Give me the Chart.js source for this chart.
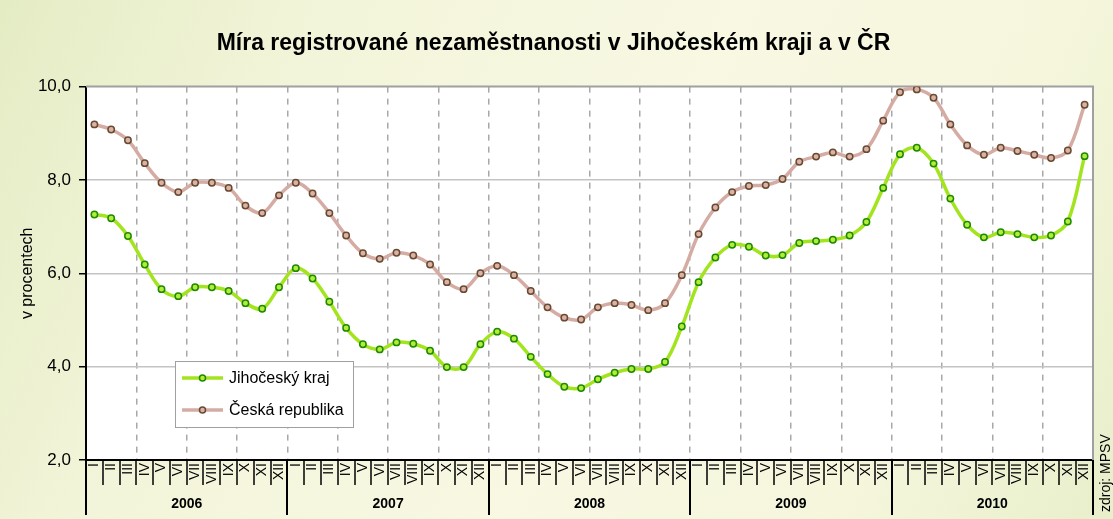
<!DOCTYPE html>
<html><head><meta charset="utf-8">
<script src="https://cdn.jsdelivr.net/npm/chart.js@4.4.1/dist/chart.umd.min.js"></script>
<style>
html,body{margin:0;padding:0;}
body{width:1113px;height:519px;overflow:hidden;background:linear-gradient(115deg,#e4ecc4 0%,#f3f5da 25%,#f8f8e3 55%,#f5f6dc 80%,#e8efca 100%);}
#wrap{position:relative;width:1113px;height:519px;}
</style></head><body><div id="wrap"><canvas id="c" width="1113" height="519"></canvas></div>
<script>
const months = ['I','II','III','IV','V','VI','VII','VIII','IX','X','XI','XII'];
const years = ['2006','2007','2008','2009','2010'];
const yTicks = [2, 4, 6, 8, 10];
const jihocesky = [
  7.26, 7.18, 6.80, 6.19, 5.66, 5.51, 5.70, 5.70, 5.62, 5.36, 5.24, 5.70,
  6.11, 5.89, 5.39, 4.83, 4.48, 4.37, 4.52, 4.49, 4.34, 3.99, 3.99, 4.48,
  4.75, 4.60, 4.21, 3.84, 3.57, 3.54, 3.73, 3.87, 3.95, 3.95, 4.10, 4.86,
  5.81, 6.34, 6.61, 6.57, 6.38, 6.39, 6.65, 6.69, 6.72, 6.81, 7.10, 7.83,
  8.55, 8.69, 8.35, 7.60, 7.04, 6.77, 6.88, 6.84, 6.77, 6.81, 7.11, 8.51
];
const ceskaRepublika = [
  9.19, 9.08, 8.85, 8.36, 7.94, 7.74, 7.94, 7.94, 7.83, 7.45, 7.29, 7.67,
  7.94, 7.71, 7.29, 6.81, 6.43, 6.31, 6.44, 6.38, 6.19, 5.81, 5.66, 6.00,
  6.16, 5.96, 5.62, 5.27, 5.05, 5.01, 5.27, 5.36, 5.32, 5.21, 5.36, 5.96,
  6.84, 7.41, 7.74, 7.87, 7.89, 8.02, 8.39, 8.50, 8.59, 8.50, 8.66, 9.27,
  9.88, 9.94, 9.76, 9.19, 8.74, 8.54, 8.69, 8.62, 8.54, 8.47, 8.63, 9.61
];
const seriesNames = ['Jihočeský kraj', 'Česká republika'];
const titleText = 'Míra registrované nezaměstnanosti v Jihočeském kraji a v ČR';
const yTitle = 'v procentech';
const sourceText = 'zdroj: MPSV';

const labels = [];
years.forEach(y => months.forEach(m => labels.push(m + ' ' + y)));

const FONT = "'Liberation Sans', Arial, sans-serif";

const decor = {
  id: 'decor',
  beforeDraw(chart) {
    const {ctx, chartArea: a} = chart;
    ctx.save();
    ctx.fillStyle = '#ffffff';
    ctx.fillRect(a.left, a.top, a.right - a.left, a.bottom - a.top);
    ctx.restore();
  },
  beforeDatasetsDraw(chart) {
    const {ctx, chartArea: a} = chart;
    ctx.save();
    ctx.strokeStyle = '#a0a0a0';
    ctx.lineWidth = 2;
    ctx.beginPath();
    ctx.moveTo(a.left, a.top);
    ctx.lineTo(a.right, a.top);
    ctx.lineTo(a.right, a.bottom);
    ctx.stroke();
    ctx.restore();
  },
  afterDraw(chart) {
    const {ctx, chartArea: a} = chart;
    const xs = chart.scales.x;
    const half = (xs.getPixelForValue(1) - xs.getPixelForValue(0)) / 2;
    ctx.save();
    ctx.strokeStyle = '#000';
    for (let i = 0; i <= labels.length; i++) {
      const bx = Math.round(xs.getPixelForValue(Math.min(i, labels.length - 1)) + (i === labels.length ? half : -half));
      const isYear = i % 12 === 0;
      ctx.lineWidth = isYear ? 2 : 1.5;
      ctx.beginPath();
      ctx.moveTo(bx, a.bottom);
      ctx.lineTo(bx, isYear ? 515 : 485);
      ctx.stroke();
    }
    ctx.fillStyle = '#000';
    ctx.font = "bold 14px " + FONT;
    ctx.textAlign = 'center';
    ctx.textBaseline = 'middle';
    years.forEach((y, k) => {
      const x0 = xs.getPixelForValue(k * 12) - half;
      const x1 = xs.getPixelForValue(k * 12 + 11) + half;
      ctx.fillText(y, (x0 + x1) / 2, 504);
    });
    // legend
    const lx = 175.5, ly = 361.5, lw = 178, lh = 66;
    ctx.fillStyle = '#fff';
    ctx.fillRect(lx, ly, lw, lh);
    ctx.strokeStyle = '#a0a0a0';
    ctx.lineWidth = 1;
    ctx.strokeRect(lx, ly, lw, lh);
    chart.data.datasets.forEach((ds, k) => {
      const yy = 378 + k * 32;
      ctx.strokeStyle = ds.borderColor;
      ctx.lineWidth = ds.borderWidth;
      ctx.beginPath();
      ctx.moveTo(182, yy);
      ctx.lineTo(223, yy);
      ctx.stroke();
      ctx.beginPath();
      ctx.arc(202.5, yy, 3, 0, Math.PI * 2);
      ctx.fillStyle = ds.pointBackgroundColor;
      ctx.fill();
      ctx.lineWidth = 1.5;
      ctx.strokeStyle = ds.pointBorderColor;
      ctx.stroke();
      ctx.fillStyle = '#000';
      ctx.font = "16px " + FONT;
      ctx.textAlign = 'left';
      ctx.textBaseline = 'middle';
      ctx.fillText(ds.label, 229, yy + 1);
    });
    // source
    ctx.save();
    ctx.translate(1106, 512);
    ctx.rotate(-Math.PI / 2);
    ctx.font = "14px " + FONT;
    ctx.fillStyle = '#000';
    ctx.textAlign = 'left';
    ctx.textBaseline = 'middle';
    ctx.fillText(sourceText, 0, 0);
    ctx.restore();
    ctx.restore();
  }
};

new Chart(document.getElementById('c'), {
  type: 'line',
  data: {
    labels: labels,
    datasets: [
      {
        label: seriesNames[0],
        data: jihocesky,
        borderColor: '#a2e41e',
        borderWidth: 3.5,
        pointBackgroundColor: '#b4ec3a',
        pointBorderColor: '#1e8a00',
        pointBorderWidth: 1.5,
        pointRadius: 3.2,
        tension: 0.35,
        order: 1
      },
      {
        label: seriesNames[1],
        data: ceskaRepublika,
        borderColor: '#d5aca4',
        borderWidth: 3.5,
        pointBackgroundColor: '#d9b3aa',
        pointBorderColor: '#6a4a2e',
        pointBorderWidth: 1.5,
        pointRadius: 3.2,
        tension: 0.35,
        order: 2
      }
    ]
  },
  options: {
    responsive: false,
    animation: false,
    devicePixelRatio: 1,
    layout: {padding: {left: 14, right: 20, top: 0, bottom: 0}},
    plugins: {
      legend: {display: false},
      tooltip: {enabled: false},
      title: {
        display: true,
        text: titleText,
        color: '#000',
        font: {family: FONT, size: 23, weight: 'bold'},
        padding: {top: 30, bottom: 29}
      }
    },
    scales: {
      x: {
        type: 'category',
        offset: true,
        grid: {
          offset: true,
          drawTicks: false,
          lineWidth: 1.5,
          color: (c) => (c.index % 3 === 0 && c.index > 0 && c.index < labels.length) ? '#a8a8a8' : 'rgba(0,0,0,0)'
        },
        border: {display: true, color: '#000', width: 2, dash: [6, 6]},
        ticks: {
          autoSkip: false,
          minRotation: 90,
          maxRotation: 90,
          padding: 3,
          color: '#000',
          font: {family: FONT, size: 14},
          callback: (v, i) => months[i % 12]
        },
        afterFit: (s) => { s.height = 59; }
      },
      y: {
        min: yTicks[0],
        max: yTicks[yTicks.length - 1],
        afterBuildTicks: (s) => { s.ticks = yTicks.map(v => ({value: v})); },
        grid: {
          lineWidth: 1.5,
          color: (c) => (c.tick && (c.tick.value === yTicks[0] || c.tick.value === yTicks[yTicks.length - 1])) ? 'rgba(0,0,0,0)' : '#c4c4c4',
          tickColor: '#000',
          tickLength: 7,
          tickWidth: 1.5
        },
        border: {display: true, color: '#000', width: 2},
        ticks: {
          padding: 8,
          color: '#000',
          font: {family: FONT, size: 17},
          callback: (v) => Number(v).toFixed(1).replace('.', ',')
        },
        title: {
          display: true,
          text: yTitle,
          color: '#000',
          font: {family: FONT, size: 16},
          padding: {top: 4, bottom: 4}
        },
        afterFit: (s) => { s.width = 72; }
      }
    }
  },
  plugins: [decor]
});
</script>
</body></html>
